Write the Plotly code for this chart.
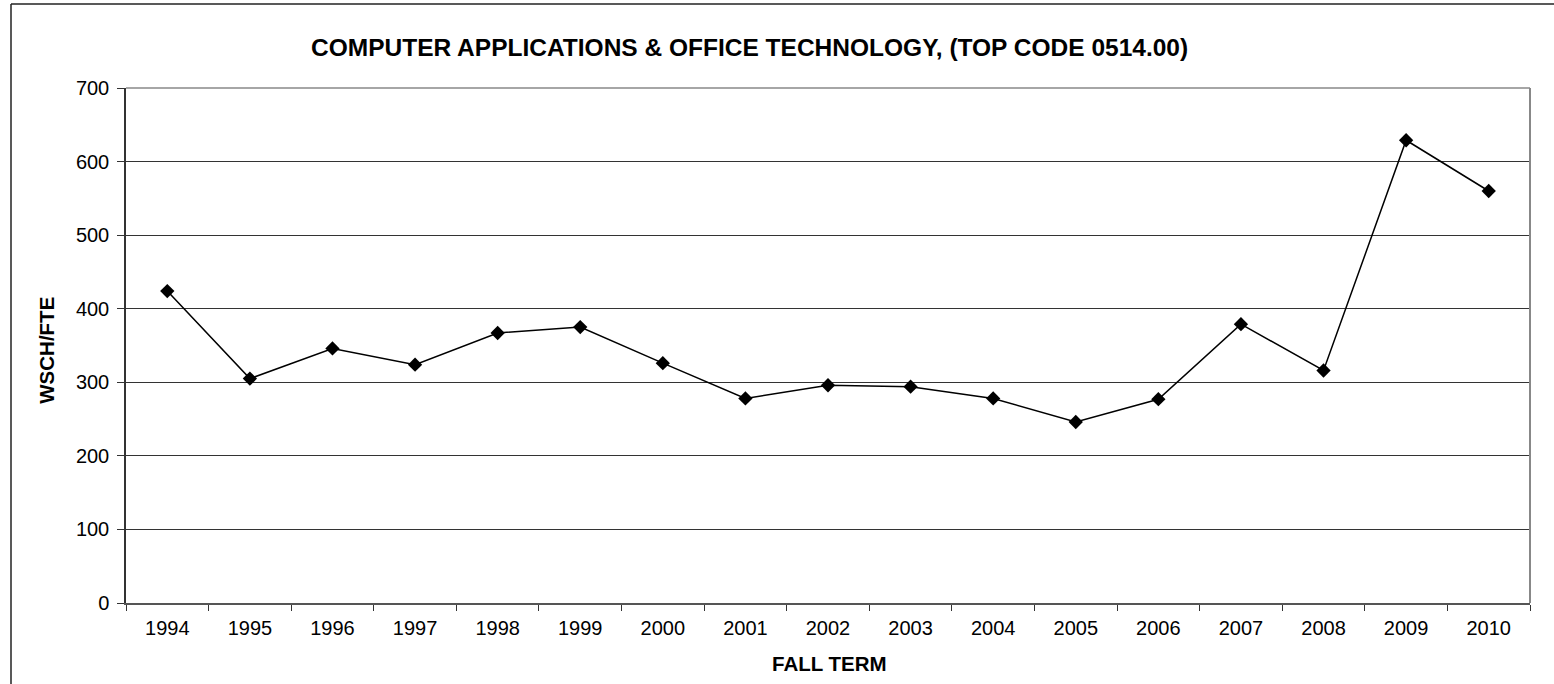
import plotly.graph_objects as go

years = ["1994", "1995", "1996", "1997", "1998", "1999", "2000", "2001", "2002",
         "2003", "2004", "2005", "2006", "2007", "2008", "2009", "2010"]
wsch_fte = [424, 305, 346, 324, 367, 375, 326, 278, 296,
            294, 278, 246, 277, 379, 316, 629, 560]
y_ticks = [0, 100, 200, 300, 400, 500, 600, 700]

title_text = "COMPUTER APPLICATIONS & OFFICE TECHNOLOGY, (TOP CODE 0514.00)"
x_title = "FALL TERM"
y_title = "WSCH/FTE"

FONT = "Liberation Sans, Arial, sans-serif"

W, H = 1554, 684
L, R, T, B = 126, 1530, 88, 603.5


def px_x(px):
    return (px - L) / (R - L)


def px_y(py):
    return (B - py) / (B - T)


fig = go.Figure()
fig.add_trace(go.Scatter(
    x=years, y=wsch_fte, mode="lines+markers",
    line=dict(color="#000000", width=1.5),
    marker=dict(symbol="diamond", size=11, color="#000000"),
    showlegend=False, hoverinfo="x+y",
))

fig.update_layout(
    width=W, height=H,
    margin=dict(l=L, r=W - R, t=T, b=H - B, pad=0),
    paper_bgcolor="white", plot_bgcolor="white",
    font=dict(family=FONT, size=20, color="#000000"),
    xaxis=dict(
        type="category", range=[-0.5, len(years) - 0.5],
        tickson="boundaries", ticks="outside", ticklen=6, tickcolor="#333333",
        showgrid=False, showline=True, linecolor="#555555", linewidth=1.5,
        zeroline=False, tickfont=dict(size=20, family=FONT),
        ticklabelstandoff=6,
    ),
    yaxis=dict(
        range=[0, 700], tickvals=y_ticks, ticks="outside", ticklen=7,
        tickcolor="#333333", showgrid=True, gridcolor="#333333", gridwidth=1,
        showline=True, linecolor="#333333", linewidth=1.5, zeroline=False,
        tickfont=dict(size=20, family=FONT), ticklabelstandoff=4,
    ),
    annotations=[
        dict(text="<b>" + title_text + "</b>", x=px_x(749), y=px_y(47),
             xref="paper", yref="paper", xanchor="center", yanchor="middle",
             showarrow=False, font=dict(size=24.5, family=FONT)),
        dict(text="<b>" + x_title + "</b>", x=px_x(829), y=px_y(664),
             xref="paper", yref="paper", xanchor="center", yanchor="middle",
             showarrow=False, font=dict(size=20.5, family=FONT)),
        dict(text="<b>" + y_title + "</b>", x=px_x(47), y=px_y(351),
             xref="paper", yref="paper", xanchor="center", yanchor="middle",
             textangle=-90, showarrow=False, font=dict(size=20.5, family=FONT)),
    ],
    shapes=[
        # outer chart border: only the top and left edges are in view
        dict(type="line", xref="paper", yref="paper",
             x0=px_x(11), x1=px_x(1560), y0=px_y(4), y1=px_y(4),
             line=dict(color="#222222", width=1.5), layer="below"),
        dict(type="line", xref="paper", yref="paper",
             x0=px_x(11), x1=px_x(11), y0=px_y(4), y1=px_y(690),
             line=dict(color="#222222", width=1.5), layer="below"),
        # plot area top and right border
        dict(type="line", xref="paper", yref="paper", x0=0, x1=1, y0=1, y1=1,
             line=dict(color="#888888", width=1.5)),
        dict(type="line", xref="paper", yref="paper", x0=1, x1=1, y0=0, y1=1,
             line=dict(color="#888888", width=2)),
    ],
)

fig.write_html(
    "out.html",
    config={"displayModeBar": False},
    post_script="document.body.style.margin='0';document.body.style.overflow='hidden';",
)
